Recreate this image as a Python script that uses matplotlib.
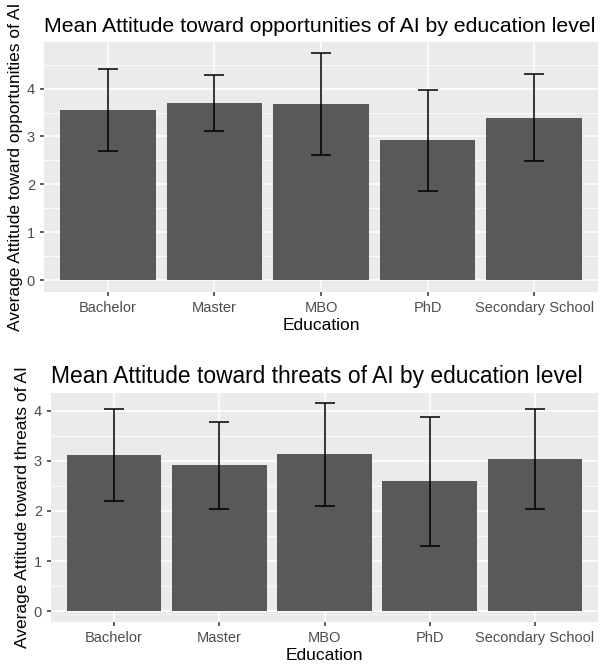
import matplotlib.pyplot as plt
import numpy as np

education = ['Bachelor', 'Master', 'MBO', 'PhD', 'Secondary School']

opp_mean = [3.56, 3.70, 3.68, 2.93, 3.39]
opp_low = [2.70, 3.12, 2.61, 1.87, 2.48]
opp_high = [4.40, 4.28, 4.74, 3.97, 4.30]

thr_mean = [3.12, 2.92, 3.14, 2.59, 3.04]
thr_low = [2.19, 2.04, 2.09, 1.30, 2.04]
thr_high = [4.03, 3.77, 4.15, 3.87, 4.03]

plt.rcParams['font.family'] = ['Liberation Sans', 'DejaVu Sans']

BG = '#EBEBEB'
BAR = '#595959'
TXT = '#4D4D4D'


def draw_panel(ax, mean, low, high, title, ylabel, title_size):
    x = np.arange(1, len(education) + 1)
    ax.set_facecolor(BG)
    ax.bar(x, mean, width=0.9, color=BAR, zorder=2)
    mean = np.array(mean)
    yerr = [mean - np.array(low), np.array(high) - mean]
    ax.errorbar(x, mean, yerr=yerr, fmt='none', ecolor='black',
                elinewidth=1.1, capsize=7.5, capthick=1.1, zorder=3)

    top = max(high)
    pad = top * 0.05
    ax.set_ylim(-pad, top + pad)
    ax.set_xlim(0.4, len(education) + 0.6)

    ax.set_yticks([0, 1, 2, 3, 4])
    ax.set_yticks(np.arange(0.5, top + pad, 1.0), minor=True)
    ax.set_xticks(x)
    ax.set_xticklabels(education)
    ax.grid(which='major', color='white', linewidth=1.1, zorder=0)
    ax.grid(which='minor', axis='y', color='white', linewidth=0.55, zorder=0)
    ax.set_axisbelow(True)
    for s in ax.spines.values():
        s.set_visible(False)
    ax.tick_params(which='major', colors='#333333', labelcolor=TXT,
                   labelsize=10.5, length=3, width=1.1)
    ax.tick_params(which='minor', length=0)

    ax.set_title(title, loc='left', fontsize=title_size, color='black', pad=7)
    ax.set_xlabel('Education', fontsize=12.5, labelpad=2)
    ax.set_ylabel(ylabel, fontsize=12.5, labelpad=3)


fig = plt.figure(figsize=(6, 6.68), dpi=100)
ax1 = fig.add_axes([0.0733, 0.5633, 0.9234, 0.3743])
ax2 = fig.add_axes([0.085, 0.0693, 0.9117, 0.3428])

draw_panel(ax1, opp_mean, opp_low, opp_high,
           'Mean Attitude toward opportunities of AI by education level',
           'Average Attitude toward opportunities of AI', 15.3)
draw_panel(ax2, thr_mean, thr_low, thr_high,
           'Mean Attitude toward threats of AI by education level',
           'Average Attitude toward threats of AI', 16.4)

fig.savefig('out.png', dpi=100)
